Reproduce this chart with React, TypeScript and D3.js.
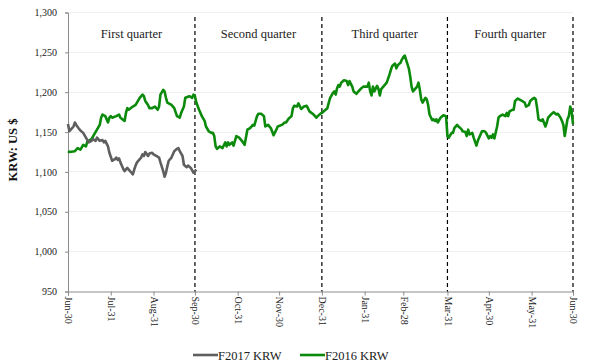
import * as d3 from 'd3';
import { useEffect, useRef } from 'react';

const WIDTH = 590;
const HEIGHT = 364;

// day offset from 30 Jun, KRW per US$
const START_DATE = new Date(2015, 5, 30);
const END_DATE = new Date(2016, 5, 30);

const f2016Series: [number, number][] = [
    [0, 1126], [1, 1125], [5, 1126], [7, 1130], [9, 1128], [11, 1134], [13, 1132], [14, 1138], [17, 1141],
    [19, 1147], [21, 1153], [23, 1159], [24, 1168], [25, 1172], [27, 1170], [29, 1162], [30, 1168], [31, 1170],
    [32, 1168], [35, 1170], [37, 1172], [38, 1168], [41, 1164], [42, 1174], [43, 1180], [44, 1178], [47, 1182],
    [49, 1184], [52, 1193], [54, 1197], [55, 1195], [56, 1189], [58, 1184], [59, 1180], [61, 1180], [63, 1182],
    [65, 1178], [66, 1182], [67, 1197], [69, 1203], [70, 1201], [71, 1193], [72, 1187], [75, 1184], [77, 1180],
    [79, 1170], [81, 1168], [82, 1174], [84, 1182], [85, 1193], [88, 1195], [90, 1193], [91, 1197], [92, 1195],
    [93, 1187], [95, 1178], [97, 1170], [99, 1164], [100, 1157], [102, 1151], [104, 1149], [105, 1149],
    [106, 1145], [107, 1132], [108, 1129], [110, 1132], [112, 1130], [114, 1137], [115, 1132], [116, 1137],
    [117, 1134], [119, 1137], [120, 1133], [122, 1145], [124, 1143], [126, 1139], [128, 1134], [130, 1153],
    [132, 1155], [134, 1159], [135, 1158], [137, 1170], [138, 1173], [140, 1173], [142, 1170], [143, 1157],
    [145, 1159], [147, 1155], [149, 1146], [151, 1153], [152, 1157], [155, 1159], [157, 1162], [158, 1162],
    [160, 1167], [162, 1170], [163, 1180], [164, 1183], [166, 1182], [167, 1186], [169, 1179], [171, 1182],
    [173, 1183], [175, 1176], [178, 1172], [180, 1168], [181, 1170], [183, 1173], [184, 1174], [186, 1177],
    [188, 1180], [189, 1187], [190, 1193], [192, 1199], [193, 1201], [194, 1197], [195, 1205], [196, 1209],
    [197, 1207], [198, 1212], [200, 1215], [202, 1214], [203, 1209], [204, 1214], [206, 1207], [207, 1201],
    [209, 1198], [210, 1200], [212, 1204], [214, 1207], [216, 1207], [217, 1207], [218, 1212], [219, 1201],
    [220, 1196], [221, 1207], [222, 1201], [224, 1208], [225, 1204], [226, 1196], [227, 1204], [229, 1208],
    [231, 1212], [233, 1222], [234, 1228], [235, 1233], [237, 1236], [238, 1230], [239, 1234], [241, 1237],
    [242, 1241], [243, 1244], [244, 1246], [245, 1241], [247, 1230], [248, 1220], [249, 1207], [250, 1201],
    [251, 1203], [253, 1207], [254, 1212], [255, 1203], [256, 1191], [257, 1187], [259, 1193], [260, 1191],
    [261, 1184], [262, 1172], [264, 1165], [265, 1166], [266, 1164], [267, 1166], [268, 1162], [270, 1168],
    [272, 1171], [274, 1170], [275, 1145], [276, 1143], [278, 1149], [279, 1149], [280, 1155], [282, 1159],
    [283, 1157], [285, 1154], [286, 1151], [288, 1150], [289, 1145], [290, 1153], [291, 1147], [293, 1149],
    [294, 1143], [296, 1133], [297, 1139], [299, 1147], [300, 1151], [302, 1151], [303, 1149], [305, 1142],
    [306, 1145], [307, 1143], [308, 1147], [309, 1142], [311, 1157], [312, 1168], [313, 1170], [314, 1171],
    [315, 1172], [317, 1170], [318, 1174], [319, 1170], [320, 1176], [322, 1178], [323, 1178], [324, 1189],
    [326, 1192], [328, 1190], [329, 1189], [331, 1187], [332, 1182], [334, 1184], [335, 1189], [337, 1192],
    [338, 1193], [339, 1191], [340, 1180], [341, 1166], [343, 1164], [344, 1166], [346, 1157], [347, 1162],
    [348, 1168], [350, 1172], [352, 1175], [354, 1172], [355, 1173], [357, 1168], [358, 1164], [359, 1159],
    [360, 1145], [362, 1166], [363, 1170], [364, 1182], [365, 1176], [366, 1160],
];

const f2017Series: [number, number][] = [
    [0, 1160], [1, 1151], [2, 1153], [4, 1157], [5, 1162], [6, 1159], [8, 1154], [9, 1152], [11, 1149],
    [13, 1143], [15, 1137], [17, 1139], [18, 1141], [20, 1139], [21, 1143], [23, 1139], [25, 1140], [26, 1137],
    [27, 1139], [29, 1132], [30, 1124], [31, 1119], [32, 1114], [34, 1116], [35, 1118], [36, 1115], [37, 1117],
    [38, 1112], [40, 1104], [41, 1101], [43, 1105], [44, 1103], [46, 1099], [47, 1097], [48, 1103], [49, 1108],
    [50, 1112], [52, 1116], [53, 1118], [54, 1122], [55, 1120], [56, 1125], [58, 1120], [59, 1123], [61, 1124],
    [62, 1122], [64, 1120], [66, 1118], [67, 1112], [69, 1101], [70, 1094], [71, 1099], [72, 1107], [73, 1114],
    [75, 1118], [77, 1126], [79, 1129], [80, 1130], [81, 1126], [83, 1120], [84, 1109], [86, 1106], [87, 1108],
    [89, 1105], [90, 1102], [91, 1099], [93, 1103],
];

const xTickDates = [
    new Date(2015, 5, 30), new Date(2015, 6, 31), new Date(2015, 7, 31), new Date(2015, 8, 30),
    new Date(2015, 9, 31), new Date(2015, 10, 30), new Date(2015, 11, 31), new Date(2016, 0, 31),
    new Date(2016, 1, 28), new Date(2016, 2, 31), new Date(2016, 3, 30), new Date(2016, 4, 31),
    new Date(2016, 5, 30),
];
const xTickLabels = ['Jun-30', 'Jul-31', 'Aug-31', 'Sep-30', 'Oct-31', 'Nov-30', 'Dec-31', 'Jan-31', 'Feb-28', 'Mar-31', 'Apr-30', 'May-31', 'Jun-30'];
const yTicks = [950, 1000, 1050, 1100, 1150, 1200, 1250, 1300];

const quarterBreaks = [START_DATE, new Date(2015, 8, 30), new Date(2015, 11, 31), new Date(2016, 2, 31), END_DATE];
const quarterLabels = ['First quarter', 'Second quarter', 'Third quarter', 'Fourth quarter'];

const seriesNames = ['F2017 KRW', 'F2016 KRW'];
const seriesColors = ['#5f5f5f', '#0b8a0b'];

const FONT = '"Liberation Serif", "Times New Roman", serif';

const App = () => {
    const svgRef = useRef<SVGSVGElement | null>(null);

    useEffect(() => {
        if (!svgRef.current) return;
        const svg = d3.select(svgRef.current);
        svg.selectAll('*').remove();

        const margin = { top: 12.5, left: 68, right: 17, bottom: 72.5 };
        const innerWidth = WIDTH - margin.left - margin.right;
        const innerHeight = HEIGHT - margin.top - margin.bottom;

        const xScale = d3.scaleTime().domain([START_DATE, END_DATE]).range([0, innerWidth]);
        const yScale = d3.scaleLinear().domain([950, 1300]).range([innerHeight, 0]);

        const g = svg.append('g').attr('transform', `translate(${margin.left},${margin.top})`);

        // faint horizontal grid
        g.append('g')
            .selectAll('line')
            .data(yTicks.slice(1))
            .join('line')
            .attr('x1', 0)
            .attr('x2', innerWidth)
            .attr('y1', (d) => yScale(d))
            .attr('y2', (d) => yScale(d))
            .attr('stroke', '#efefef')
            .attr('stroke-width', 1)
            .attr('shape-rendering', 'crispEdges');

        // Left axis
        const yAxis = g.append('g').call(
            d3
                .axisLeft(yScale)
                .tickValues(yTicks)
                .tickSize(3)
                .tickPadding(8)
                .tickFormat((d) => d3.format(',')(d as number))
        );
        yAxis.select('.domain').attr('stroke', '#8c8c8c');
        yAxis.selectAll('line').attr('stroke', '#8c8c8c');
        yAxis.selectAll('text').style('font-family', FONT).style('font-size', '10px').attr('fill', '#222');

        // Bottom axis
        const xAxis = g
            .append('g')
            .attr('transform', `translate(0,${innerHeight})`)
            .call(
                d3
                    .axisBottom(xScale)
                    .tickValues(xTickDates)
                    .tickSize(4)
                    .tickFormat((_d, i) => xTickLabels[i])
            );
        xAxis.select('.domain').attr('stroke', '#8c8c8c');
        xAxis.selectAll('line').attr('stroke', '#8c8c8c');
        xAxis
            .selectAll('text')
            .style('font-family', FONT)
            .style('font-size', '10px')
            .attr('fill', '#222')
            .attr('text-anchor', 'start')
            .attr('dy', '0.32em')
            .attr('x', 0)
            .attr('y', 0)
            .attr('transform', 'translate(0,5) rotate(90)');

        // Quarter separators
        g.append('g')
            .selectAll('line')
            .data(quarterBreaks.slice(1))
            .join('line')
            .attr('x1', (d) => xScale(d))
            .attr('x2', (d) => xScale(d))
            .attr('y1', 4.5)
            .attr('y2', innerHeight)
            .attr('stroke', '#000')
            .attr('stroke-width', 1.2)
            .attr('stroke-dasharray', '4,3');

        g.append('g')
            .selectAll('text')
            .data(quarterLabels)
            .join('text')
            .attr('x', (_d, i) => (xScale(quarterBreaks[i]) + xScale(quarterBreaks[i + 1])) / 2)
            .attr('y', 25)
            .attr('text-anchor', 'middle')
            .style('font-family', FONT)
            .style('font-size', '12.5px')
            .attr('fill', '#222')
            .text((d) => d);

        const line = d3
            .line<[number, number]>()
            .x((d) => xScale(d3.timeDay.offset(START_DATE, d[0])))
            .y((d) => yScale(d[1]))
            .curve(d3.curveLinear);

        [f2016Series, f2017Series].forEach((series, i) => {
            g.append('path')
                .datum(series)
                .attr('d', line)
                .attr('fill', 'none')
                .attr('stroke', i === 0 ? seriesColors[1] : seriesColors[0])
                .attr('stroke-width', 2.6)
                .attr('stroke-linejoin', 'round');
        });

        // Y axis title
        svg.append('text')
            .attr('transform', `translate(17,${margin.top + innerHeight / 2 - 2}) rotate(-90)`)
            .attr('text-anchor', 'middle')
            .style('font-family', FONT)
            .style('font-size', '12.5px')
            .style('font-weight', 'bold')
            .attr('fill', '#111')
            .text('KRW: US $');

        // Legend
        const legendX = [193, 300];
        const legend = svg
            .append('g')
            .selectAll('g')
            .data(seriesNames)
            .join('g')
            .attr('transform', (_d, i) => `translate(${legendX[i]},355)`);
        legend
            .append('line')
            .attr('x1', 0)
            .attr('x2', 25)
            .attr('stroke', (_d, i) => seriesColors[i])
            .attr('stroke-width', 2.6);
        legend
            .append('text')
            .attr('x', 25)
            .attr('y', 4.5)
            .style('font-family', FONT)
            .style('font-size', '12.5px')
            .attr('fill', '#222')
            .text((d) => d);
    }, []);

    return (
        <svg
            ref={svgRef}
            width={WIDTH}
            height={HEIGHT}
            style={{ position: 'absolute', left: 0, top: 0, background: '#fff', display: 'block' }}
        ></svg>
    );
};

export default App;
